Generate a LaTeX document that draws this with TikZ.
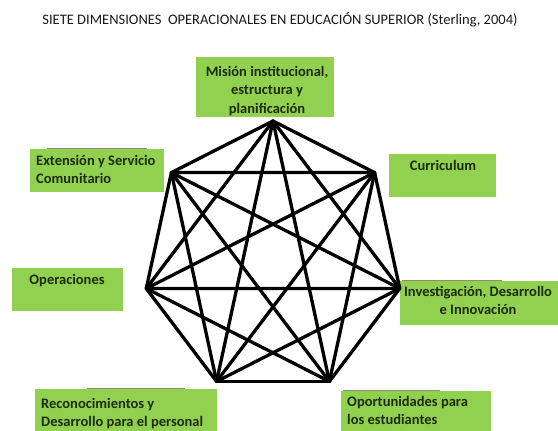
\documentclass[tikz,border=0pt]{standalone}
\usepackage{fontspec}
\setmainfont{Carlito}

\definecolor{boxgreen}{RGB}{146,208,80}
\definecolor{labelink}{RGB}{28,44,12}

\begin{document}
\begin{tikzpicture}[x=1pt,y=-1pt,
box/.style={fill=boxgreen,inner sep=0pt},
boxtext/.style={inner sep=0pt,text=labelink,font=\bfseries\fontsize{14.5}{18.5}\selectfont},
rim/.style={draw=gray!70!olive,line width=1.3pt},
edge/.style={line width=3.3pt,line cap=round,line join=round}]
\useasboundingbox (0,0) rectangle (558,431);
\clip (0,0) rectangle (558,431);

\node[font=\fontsize{14.5}{17}\selectfont,text=black!90] (title) at (280,20)
{SIETE DIMENSIONES\ \ OPERACIONALES EN EDUCACIÓN SUPERIOR (Sterling, 2004)};

% green boxes
\node[box,minimum width=138pt,minimum height=60pt] (mision) at (265,87) {};
\node[box,minimum width=134pt,minimum height=43pt] (extension) at (97,170.5) {};
\node[box,minimum width=107pt,minimum height=43pt] (curriculum) at (442.5,175.5) {};
\node[box,minimum width=111pt,minimum height=43pt] (operaciones) at (67.5,289.5) {};
\node[box,minimum width=165pt,minimum height=44pt] (investigacion) at (482.5,303) {};
\node[box,minimum width=182pt,minimum height=51pt] (reconocimientos) at (126,414.5) {};
\node[box,minimum width=150pt,minimum height=49pt] (oportunidades) at (416,415.5) {};

% faint shadow on top of some boxes
\draw[rim] ([xshift=17pt]extension.north west) -- ([xshift=-17pt]extension.north east);
\draw[rim] ([xshift=2pt]investigacion.north west) -- ([xshift=-63pt]investigacion.north east);
\draw[rim] ([xshift=52pt]reconocimientos.north west) -- ([xshift=-32pt]reconocimientos.north east);
\draw[rim] ([xshift=2pt]oportunidades.north west) -- ([xshift=-51pt]oportunidades.north east);

\node[boxtext,align=center,anchor=north] (mision-t) at (267,66)
{Misión institucional,\\estructura y\\planificación};
\node[boxtext,align=left,anchor=north west] (extension-t) at (36,155)
{Extensión y Servicio\\Comunitario};
\node[boxtext,anchor=north] (curriculum-t) at (443,160) {Curriculum};
\node[boxtext,anchor=north] (operaciones-t) at (67,274) {Operaciones};
\node[boxtext,align=center,anchor=north] (investigacion-t) at (478,286)
{Investigación, Desarrollo\\e Innovación};
\node[boxtext,align=left,anchor=north west] (reconocimientos-t) at (41,398)
{Reconocimientos y\\Desarrollo para el personal};
\node[boxtext,align=left,anchor=north west] (oportunidades-t) at (347,396)
{Oportunidades para\\los estudiantes};

% heptagon corners, every pair joined
\foreach \i in {0,...,6}
  \coordinate (v\i) at ({273+130*cos(90-\i*360/7)},{258-137*sin(90-\i*360/7)});
\foreach \i in {0,...,6}{
  \foreach \j in {0,...,6}{
    \ifnum\i<\j \draw[edge] (v\i) -- (v\j); \fi
  }
}
\end{tikzpicture}
\end{document}
